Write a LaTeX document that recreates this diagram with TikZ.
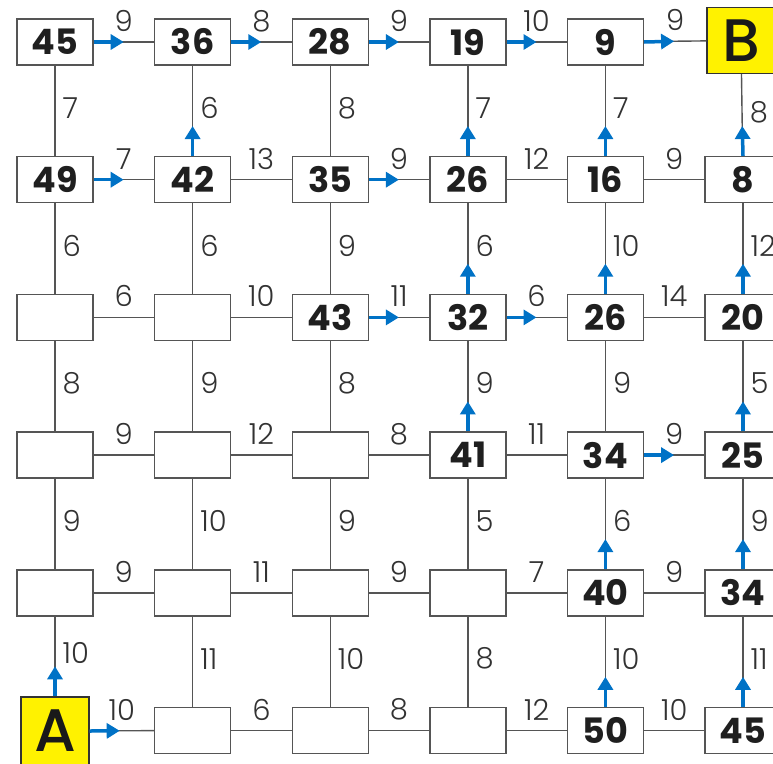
\documentclass[tikz,border=0pt]{standalone}
\usepackage{fontspec}
\setmainfont{Poppins}[UprightFont=* Light, BoldFont=* Bold]
\newfontfamily\medfont{Poppins}[UprightFont=* Medium]
\usetikzlibrary{arrows.meta,calc}
\definecolor{arrblue}{RGB}{0,114,198}
\definecolor{edgegray}{RGB}{85,85,85}
\definecolor{labgray}{RGB}{50,50,50}
\definecolor{yel}{RGB}{255,242,0}
\tikzset{
  box/.style={draw=edgegray, line width=1.4pt, fill=white, minimum width=76pt, minimum height=46pt, inner sep=0pt, font=\fontsize{35}{35}\selectfont\bfseries, text=black!88},
  endbox/.style={draw=black!80, line width=1.4pt, fill=yel, minimum width=68pt, minimum height=66pt, inner sep=0pt, font=\fontsize{60}{60}\selectfont\medfont, text=black!90},
  link/.style={draw=edgegray, line width=1.4pt},
  bluearr/.style={draw=arrblue, line width=3.5pt, -{Triangle[length=13pt,width=15pt]}},
  elab/.style={font=\fontsize{29}{29}\selectfont, text=labgray, inner sep=0pt}
}
\begin{document}
\begin{tikzpicture}[x=1pt,y=-1pt]
\useasboundingbox (0,0) rectangle (773,763);
\clip (0,0) rectangle (773,763);
% nodes
\foreach \c/\r/\t in {0/0/45,1/0/36,2/0/28,3/0/19,4/0/9,
  0/1/49,1/1/42,2/1/35,3/1/26,4/1/16,5/1/8,
  0/2/{},1/2/{},2/2/43,3/2/32,4/2/26,5/2/20,
  0/3/{},1/3/{},2/3/{},3/3/41,4/3/34,5/3/25,
  0/4/{},1/4/{},2/4/{},3/4/{},4/4/40,5/4/34,
  1/5/{},2/5/{},3/5/{},4/5/50,5/5/45}
  \node[box] (n\c\r) at ({55+137.6*\c},{42+137.7*\r}) {\t};
\node[endbox] (n50) at (741,40.5) {B};
\node[endbox, minimum height=68pt, text depth=0pt] (n05) at (55,731) {A};
% horizontal links
\foreach \r/\labs in {0/{9,8,9,10,9},1/{7,13,9,12,9},2/{6,10,11,6,14},3/{9,12,8,11,9},4/{9,11,9,7,9},5/{10,6,8,12,10}}{
  \foreach \l [count=\c from 0] in \labs {
    \pgfmathtruncatemacro{\nc}{\c+1}
    \draw[link] (n\c\r) -- (n\nc\r) node[elab, midway, yshift=21pt] {\l};
  }
}
% vertical links
\foreach \c/\labs in {0/{7,6,8,9,10},1/{6,6,9,10,11},2/{8,9,8,9,10},3/{7,6,9,5,8},4/{7,10,9,6,10},5/{8,12,5,9,11}}{
  \foreach \l [count=\r from 0] in \labs {
    \pgfmathtruncatemacro{\nr}{\r+1}
    \draw[link] (n\c\r) -- (n\c\nr) node[elab, midway, anchor=west, xshift=7pt, yshift=3pt] {\l};
  }
}
% blue arrows
\foreach \a/\b/\s/\e in {00/10/east/west,10/20/east/west,20/30/east/west,30/40/east/west,40/50/east/west,
  01/11/east/west,21/31/east/west,22/32/east/west,32/42/east/west,43/53/east/west,05/15/east/west,
  11/10/north/south,31/30/north/south,41/40/north/south,51/50/north/south,
  32/31/north/south,42/41/north/south,52/51/north/south,
  33/32/north/south,53/52/north/south,44/43/north/south,54/53/north/south,
  45/44/north/south,55/54/north/south,05/04/north/south}
  \draw[bluearr] (n\a.\s) -- ($(n\a.\s)!30pt!(n\b.\e)$);
\end{tikzpicture}
\end{document}
